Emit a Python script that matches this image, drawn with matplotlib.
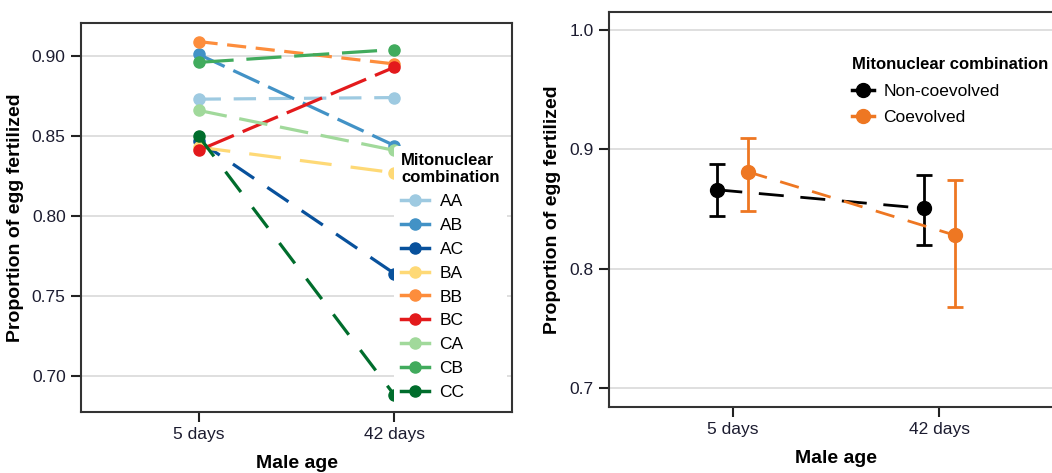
import matplotlib
matplotlib.use("Agg")
from matplotlib import pyplot as plt
from matplotlib.lines import Line2D

plt.rcParams['font.family'] = ['Liberation Sans', 'DejaVu Sans']

# --- data, left panel (each mitonuclear combination) ---
ages = ["5 days", "42 days"]
combos = ["AA", "AB", "AC", "BA", "BB", "BC", "CA", "CB", "CC"]
day5 = [0.873, 0.901, 0.847, 0.843, 0.909, 0.841, 0.866, 0.896, 0.850]
day42 = [0.874, 0.844, 0.764, 0.827, 0.895, 0.893, 0.841, 0.904, 0.688]
combo_colors = ["#9ecae1", "#4292c6", "#08519c", "#fed976", "#fd8d3c",
                "#e31a1c", "#a1d99b", "#41ab5d", "#006d2c"]
# dash patterns (R uses a different lty for each line)
dash_styles = [(7, 4), (9, 3), (8, 5), (10, 6), (6, 3), (12, 3),
               (9, 4), (11, 4), (8, 6)]

# --- data, right panel (group means with CI) ---
groups = ["Non-coevolved", "Coevolved"]
grp_mean = [[0.866, 0.8505], [0.881, 0.828]]
grp_low = [[0.844, 0.820], [0.848, 0.768]]
grp_high = [[0.8875, 0.8785], [0.909, 0.8745]]
grp_colors = ["black", "#ee7722"]
dodge = [-0.075, 0.075]

W, H = 1052, 473
fig = plt.figure(figsize=(W / 100, H / 100), dpi=100)

ax1 = fig.add_axes([81 / W, (H - 412) / H, (512 - 81) / W, (412 - 23) / H])
ax2 = fig.add_axes([609 / W, (H - 407) / H, 454 / W, (407 - 12) / H])

xs = [1, 2]
for i, c in enumerate(combos):
    ln, = ax1.plot(xs, [day5[i], day42[i]], color=combo_colors[i], lw=2.3,
                   marker='o', ms=8, zorder=3)
    ln.set_dashes(dash_styles[i])

for g in range(2):
    gx = [x + dodge[g] for x in xs]
    lo = [grp_mean[g][k] - grp_low[g][k] for k in range(2)]
    hi = [grp_high[g][k] - grp_mean[g][k] for k in range(2)]
    ax2.errorbar(gx, grp_mean[g], yerr=[lo, hi], fmt='none', ecolor=grp_colors[g],
                 elinewidth=2, capsize=6, capthick=2, zorder=3)
    ln, = ax2.plot(gx, grp_mean[g], color=grp_colors[g], lw=2, marker='o',
                   ms=10, zorder=4)
    ln.set_dashes((9, 6) if g == 0 else (7, 5))

tick_col = "#1c1c30"
for ax in (ax1, ax2):
    ax.set_xlim(0.4, 2.6)
    ax.set_xticks(xs)
    ax.set_xticklabels(ages)
    ax.yaxis.grid(True, color="#d9d9d9", lw=1.2)
    ax.set_axisbelow(True)
    ax.tick_params(axis='both', direction='out', length=7, width=1.5,
                   labelsize=12.5, labelcolor=tick_col, color="#222222", pad=4)
    for s in ax.spines.values():
        s.set_color("#333333")
        s.set_linewidth(1.5)
    ax.set_xlabel("Male age", fontsize=14, fontweight='bold', labelpad=9)
    ax.set_ylabel("Proportion of egg fertilized", fontsize=14,
                  fontweight='bold', labelpad=6)

ax1.set_ylim(0.6775, 0.9206)
ax1.set_yticks([0.70, 0.75, 0.80, 0.85, 0.90])
ax1.set_yticklabels(["0.70", "0.75", "0.80", "0.85", "0.90"])

ax2.set_ylim(0.684, 1.015)
ax2.set_yticks([0.7, 0.8, 0.9, 1.0])
ax2.set_yticklabels(["0.7", "0.8", "0.9", "1.0"])

h1 = [Line2D([], [], color=combo_colors[i], lw=2.5, marker='o', ms=8)
      for i in range(len(combos))]
leg1 = ax1.legend(h1, combos, title="Mitonuclear\ncombination", loc='lower right',
                  bbox_to_anchor=(1.0, 0.0), borderaxespad=0.3, fontsize=12.5,
                  title_fontproperties={'weight': 'bold', 'size': 12},
                  frameon=True, facecolor='white', edgecolor='none', framealpha=1,
                  handlelength=1.6, labelspacing=0.5, alignment='left',
                  borderpad=0.4, handletextpad=0.6)
leg1.set_zorder(5)

h2 = [Line2D([], [], color=grp_colors[g], lw=2.5, marker='o', ms=10)
      for g in range(2)]
ax2.legend(h2, groups, title="Mitonuclear combination", loc='upper left',
           bbox_to_anchor=(0.535, 0.885), fontsize=12.5,
           title_fontproperties={'weight': 'bold', 'size': 12},
           frameon=False, handlelength=1.3, labelspacing=0.65,
           alignment='left', handletextpad=0.5, borderaxespad=0, borderpad=0)

fig.savefig("out.png", dpi=100)
